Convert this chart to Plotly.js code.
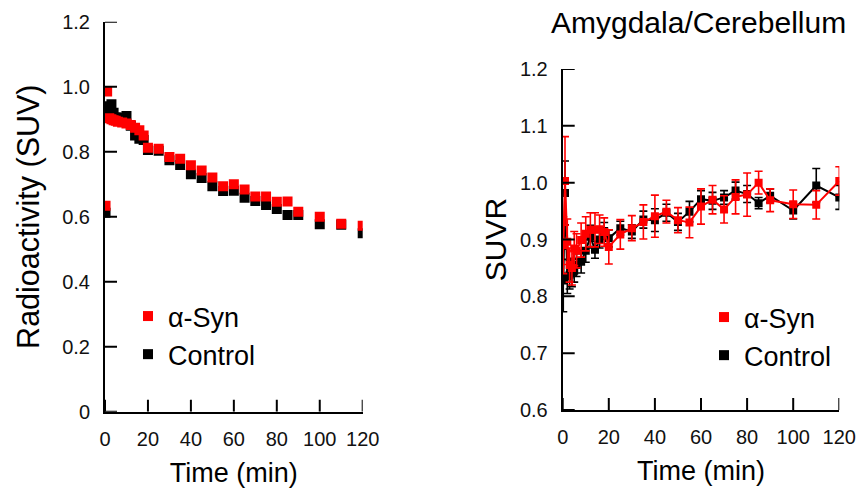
<!DOCTYPE html>
<html>
<head>
<meta charset="utf-8">
<script src="https://cdn.plot.ly/plotly-3.0.1.min.js"></script>
<style>html,body{margin:0;padding:0;background:#fff;}#chart{width:858px;height:489px;}</style>
</head>
<body>
<div id="chart"></div>
<script>
// Time frames (min)
const time = [0.25, 1, 2, 3, 4, 5, 6, 8, 10, 12, 14, 16, 18, 20, 25, 30, 35, 40, 45, 50, 55, 60, 65, 70, 75, 80, 85, 90, 100, 110, 120];

// Left panel: radioactivity (SUV)
const suvSyn = [0.634, 0.985, 0.903, 0.900, 0.897, 0.895, 0.892, 0.890, 0.887, 0.882, 0.874, 0.866, 0.850, 0.812, 0.809, 0.784, 0.778, 0.758, 0.742, 0.721, 0.694, 0.700, 0.684, 0.662, 0.662, 0.646, 0.647, 0.615, 0.600, 0.578, 0.572];
const suvCtrl = [0.612, 0.930, 0.940, 0.946, 0.920, 0.905, 0.900, 0.905, 0.910, 0.880, 0.850, 0.840, 0.836, 0.805, 0.803, 0.774, 0.759, 0.731, 0.719, 0.694, 0.679, 0.680, 0.658, 0.648, 0.636, 0.624, 0.605, 0.605, 0.577, 0.575, 0.549];

// Right panel: Amygdala/Cerebellum SUVR (mean, error)
const suvrSyn = [0.890, 1.003, 0.896, 0.855, 0.850, 0.884, 0.880, 0.899, 0.910, 0.917, 0.917, 0.918, 0.913, 0.887, 0.909, 0.920, 0.931, 0.941, 0.949, 0.934, 0.930, 0.958, 0.970, 0.953, 0.975, 0.979, 1.000, 0.969, 0.962, 0.961, 1.003];
const errSyn  = [0.050, 0.078, 0.040, 0.030, 0.030, 0.030, 0.030, 0.030, 0.030, 0.030, 0.030, 0.025, 0.025, 0.030, 0.026, 0.022, 0.030, 0.037, 0.020, 0.022, 0.027, 0.031, 0.025, 0.024, 0.030, 0.038, 0.020, 0.020, 0.025, 0.025, 0.025];
const suvrCtrl = [0.828, 0.982, 0.835, 0.838, 0.842, 0.845, 0.855, 0.861, 0.880, 0.905, 0.882, 0.900, 0.915, 0.902, 0.920, 0.914, 0.935, 0.934, 0.947, 0.931, 0.949, 0.971, 0.968, 0.974, 0.986, 0.980, 0.964, 0.977, 0.951, 0.995, 0.974];
const errCtrl  = [0.055, 0.056, 0.030, 0.025, 0.025, 0.020, 0.020, 0.020, 0.020, 0.020, 0.015, 0.015, 0.015, 0.015, 0.012, 0.012, 0.015, 0.020, 0.015, 0.015, 0.018, 0.015, 0.015, 0.012, 0.015, 0.015, 0.010, 0.012, 0.015, 0.030, 0.021];

const xTicks = [0, 20, 40, 60, 80, 100, 120];
const yTicksL = [0, 0.2, 0.4, 0.6, 0.8, 1.0, 1.2];
const yTickTextL = ['0', '0.2', '0.4', '0.6', '0.8', '1.0', '1.2'];
const yTicksR = [0.6, 0.7, 0.8, 0.9, 1.0, 1.1, 1.2];
const yTickTextR = ['0.6', '0.7', '0.8', '0.9', '1.0', '1.1', '1.2'];
const seriesNames = ['\u03b1-Syn', 'Control'];

const RED = '#ff0000', BLACK = '#000000';
const FONT = 'Liberation Sans, Arial, sans-serif';

// plot geometry
const W = 858, H = 489;
const XL = [105/W, 362.7/W], YL = [(H-411.7)/H, (H-21.7)/H];
const XR = [562.7/W, 839.3/W], YR = [(H-410)/H, (H-69)/H];
const xRange = [0, 120], yRangeL = [0, 1.2], yRangeR = [0.6, 1.2];
const TICKLEN = 12;

const traces = [
  {x: time, y: suvCtrl, type: 'scatter', mode: 'markers', name: seriesNames[1], legendrank: 2,
   marker: {symbol: 'square', size: 10, color: BLACK}, xaxis: 'x', yaxis: 'y', legend: 'legend'},
  {x: time, y: suvSyn, type: 'scatter', mode: 'markers', name: seriesNames[0], legendrank: 1,
   marker: {symbol: 'square', size: 10, color: RED}, xaxis: 'x', yaxis: 'y', legend: 'legend'},
  {x: time, y: suvrCtrl, type: 'scatter', mode: 'lines+markers', name: seriesNames[1], showlegend: false,
   line: {color: BLACK, width: 2}, marker: {symbol: 'square', size: 8, color: BLACK},
   error_y: {type: 'data', array: errCtrl, visible: true, color: BLACK, thickness: 1.6, width: 4},
   xaxis: 'x2', yaxis: 'y2'},
  {x: time, y: suvrSyn, type: 'scatter', mode: 'lines+markers', name: seriesNames[0], showlegend: false,
   line: {color: RED, width: 2}, marker: {symbol: 'square', size: 8, color: RED},
   error_y: {type: 'data', array: errSyn, visible: true, color: RED, thickness: 1.6, width: 4},
   xaxis: 'x2', yaxis: 'y2'},
  {x: [null], y: [null], type: 'scatter', mode: 'markers', name: seriesNames[0], legendrank: 1,
   marker: {symbol: 'square', size: 10, color: RED}, xaxis: 'x2', yaxis: 'y2', legend: 'legend2'},
  {x: [null], y: [null], type: 'scatter', mode: 'markers', name: seriesNames[1], legendrank: 2,
   marker: {symbol: 'square', size: 10, color: BLACK}, xaxis: 'x2', yaxis: 'y2', legend: 'legend2'}
];

// inward tick marks, drawn as one-sided error bars starting on the axis lines
function tickTraces(xa, ya, xDom, yDom, yRange, yt) {
  const pxPerX = (xDom[1]-xDom[0])*W/(xRange[1]-xRange[0]);
  const pxPerY = (yDom[1]-yDom[0])*H/(yRange[1]-yRange[0]);
  const common = {type: 'scatter', mode: 'markers', marker: {size: 1, opacity: 0}, showlegend: false,
    hoverinfo: 'skip', cliponaxis: false, xaxis: xa, yaxis: ya};
  return [
    Object.assign({}, common, {x: xTicks, y: xTicks.map(() => yRange[0]),
      error_y: {type: 'data', symmetric: false, array: xTicks.map(() => TICKLEN/pxPerY), arrayminus: xTicks.map(() => 0),
        color: BLACK, thickness: 2, width: 0}}),
    Object.assign({}, common, {x: yt.map(() => xRange[0]), y: yt,
      error_x: {type: 'data', symmetric: false, array: yt.map(() => TICKLEN/pxPerX), arrayminus: yt.map(() => 0),
        color: BLACK, thickness: 2, width: 0}})
  ];
}
tickTraces('x', 'y', XL, YL, yRangeL, yTicksL).forEach(t => traces.push(t));
tickTraces('x2', 'y2', XR, YR, yRangeR, yTicksR).forEach(t => traces.push(t));

const axisCommon = {
  showgrid: false, zeroline: false, showline: true, linecolor: '#000', linewidth: 2,
  ticks: '', tickfont: {family: FONT, size: 20, color: '#111'}
};

const layout = {
  width: W, height: H,
  margin: {l: 0, r: 0, t: 0, b: 0},
  paper_bgcolor: '#fff', plot_bgcolor: '#fff',
  font: {family: FONT, color: '#000'},
  xaxis: Object.assign({}, axisCommon, {
    domain: XL, range: xRange, tickvals: xTicks, anchor: 'y',
    ticklabelstandoff: 8,
    title: {text: 'Time (min)', font: {family: FONT, size: 27}, standoff: 14}
  }),
  yaxis: Object.assign({}, axisCommon, {
    domain: YL, range: yRangeL, tickvals: yTicksL, ticktext: yTickTextL, anchor: 'x',
    ticklabelstandoff: 9,
    title: {text: 'Radioactivity (SUV)', font: {family: FONT, size: 30.5}, standoff: 14}
  }),
  xaxis2: Object.assign({}, axisCommon, {
    domain: XR, range: xRange, tickvals: xTicks, anchor: 'y2',
    ticklabelstandoff: 8,
    title: {text: 'Time (min)', font: {family: FONT, size: 27}, standoff: 14}
  }),
  yaxis2: Object.assign({}, axisCommon, {
    domain: YR, range: yRangeR, tickvals: yTicksR, ticktext: yTickTextR, anchor: 'x2',
    ticklabelstandoff: 9,
    title: {text: 'SUVR', font: {family: FONT, size: 30}, standoff: 4}
  }),
  legend: {x: 128/W, y: (H-292)/H, xanchor: 'left', yanchor: 'top', bgcolor: 'rgba(0,0,0,0)',
    font: {family: FONT, size: 27, color: '#000'}, tracegroupgap: 0, itemwidth: 30},
  legend2: {x: 704/W, y: (H-293)/H, xanchor: 'left', yanchor: 'top', bgcolor: 'rgba(0,0,0,0)',
    font: {family: FONT, size: 27, color: '#000'}, tracegroupgap: 0, itemwidth: 30},
  annotations: [
    {text: 'Amygdala/Cerebellum', xref: 'paper', yref: 'paper', x: 698/W, y: (H-22)/H,
     xanchor: 'center', yanchor: 'middle', showarrow: false, font: {family: FONT, size: 30, color: '#000'}}
  ]
};

Plotly.newPlot('chart', traces, layout, {displayModeBar: false});
</script>
</body>
</html>
